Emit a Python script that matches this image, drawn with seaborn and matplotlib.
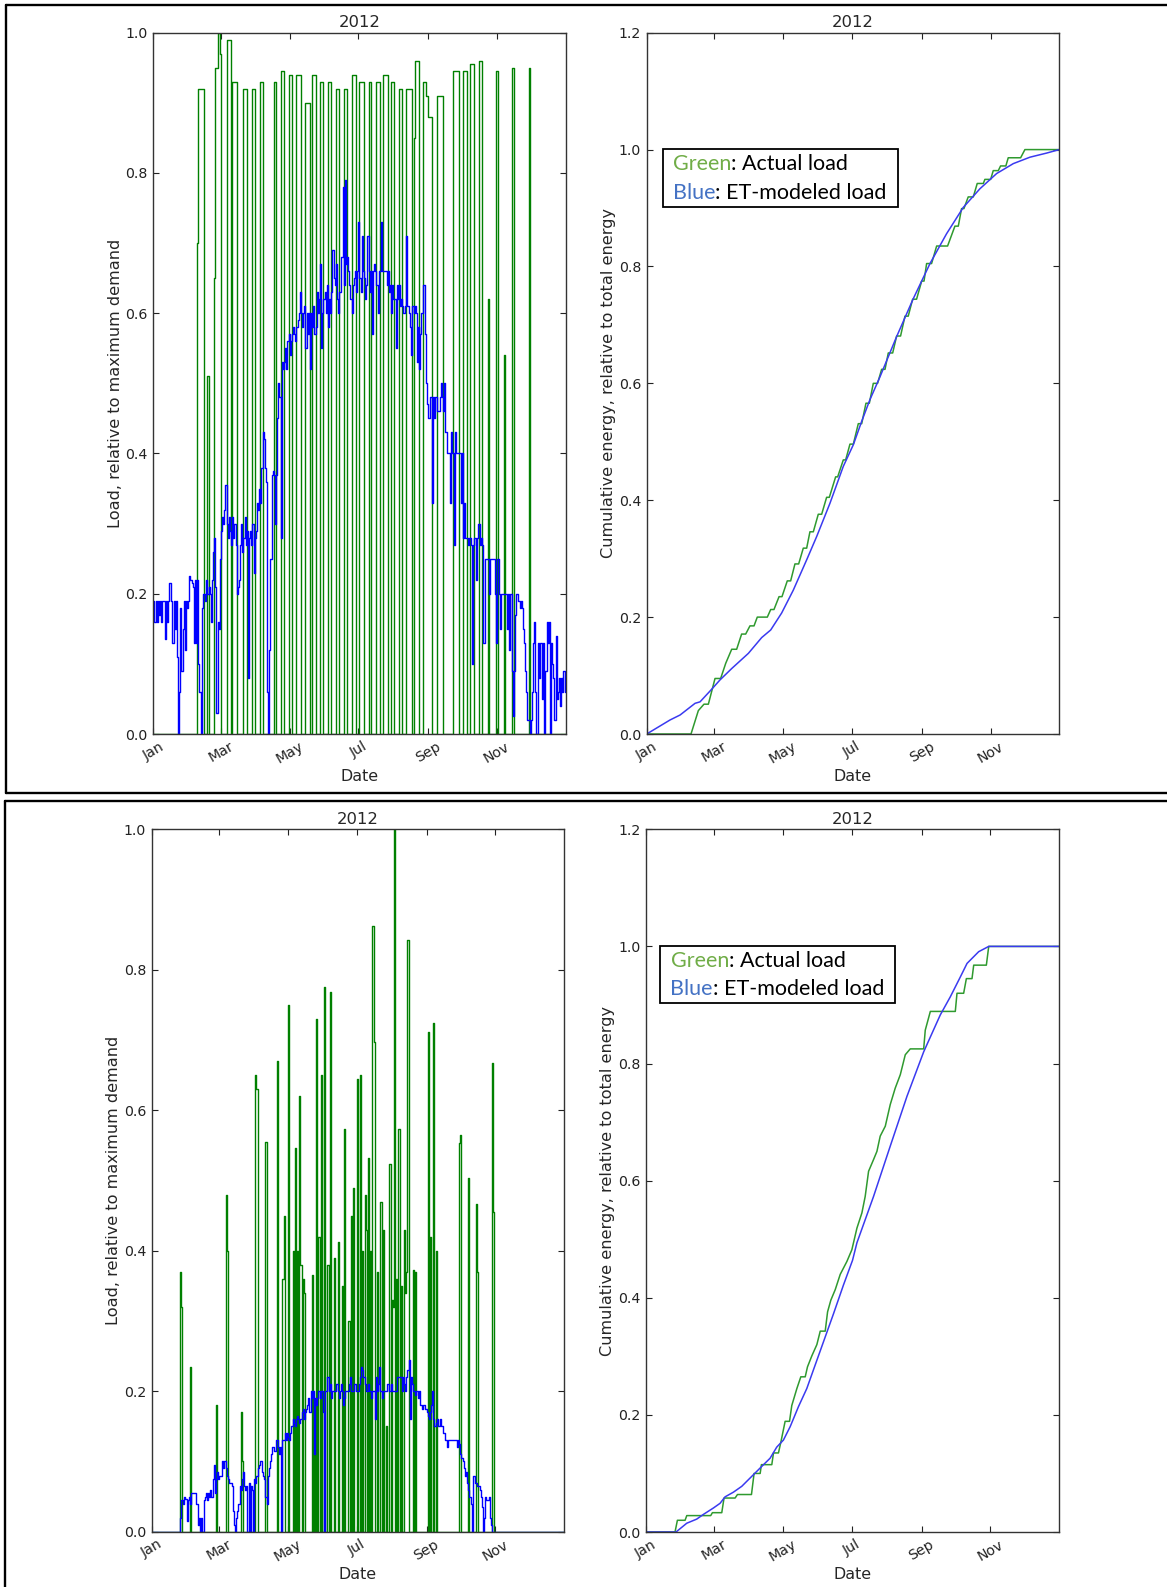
import numpy as np
import pandas as pd
import matplotlib
matplotlib.use("Agg")
import matplotlib.pyplot as plt
import matplotlib.dates as mdates
from matplotlib.ticker import FormatStrFormatter
from matplotlib.lines import Line2D
from matplotlib.patches import Rectangle
import seaborn as sns

# ---------------------------------------------------------------- data
YEAR_START = "2012-01-01"
YEAR_END = "2013-01-01"
N_DAYS = 366
TICK_DATES = ["2012-01-01", "2012-03-01", "2012-05-01", "2012-07-01", "2012-09-01", "2012-11-01"]

# Top case, actual load (relative to max demand): runs of days (start day index, n days, level)
top_actual_start = [39, 40, 48, 54, 55, 57, 59, 65, 70, 80,
                    88, 95, 107, 113, 120, 127, 135, 141, 148, 155,
                    162, 169, 176, 183, 191, 198, 204, 211, 218, 224,
                    231, 232, 239, 242, 244, 252, 266, 275, 281, 289,
                    297, 304, 311, 318, 333]
top_actual_ndays = [1, 5, 1, 1, 2, 2, 1, 4, 4, 3,
                    2, 2, 2, 3, 3, 4, 4, 3, 3, 3,
                    3, 3, 4, 4, 2, 3, 4, 3, 3, 6,
                    1, 4, 3, 2, 3, 5, 5, 3, 4, 3,
                    1, 2, 1, 2, 1]
top_actual_level = [0.70, 0.92, 0.51, 0.65, 0.95, 1.00, 0.97, 0.99, 0.93, 0.92,
                    0.92, 0.93, 0.93, 0.945, 0.94, 0.94, 0.90, 0.94, 0.93, 0.93,
                    0.92, 0.92, 0.94, 0.93, 0.93, 0.93, 0.94, 0.93, 0.92, 0.92,
                    0.85, 0.96, 0.93, 0.91, 0.88, 0.91, 0.945, 0.945, 0.955, 0.96,
                    0.62, 0.945, 0.54, 0.95, 0.95]

# Top case, ET-modeled load, one value per day of 2012
top_model = [
    0.19, 0.16, 0.19, 0.16, 0.19, 0.17, 0.19, 0.16, 0.19, 0.19,
    0.135, 0.19, 0.16, 0.19, 0.215, 0.215, 0.19, 0.13, 0.19, 0.15, 0.19, 0.11,
    0.0, 0.06, 0.18, 0.09, 0.15, 0.19, 0.12, 0.19, 0.18, 0.19,
    0.225, 0.22, 0.215, 0.21, 0.13, 0.22, 0.13, 0.22, 0.10, 0.06, 0.0,
    0.18, 0.20, 0.20, 0.19, 0.22, 0.20, 0.21, 0.20,
    0.16, 0.22, 0.26, 0.28, 0.21, 0.03, 0.16, 0.15,
    0.25, 0.29, 0.31, 0.30, 0.32, 0.355,
    0.30, 0.28, 0.31, 0.29, 0.27, 0.31, 0.28, 0.30, 0.27,
    0.20, 0.21, 0.22,
    0.27, 0.30, 0.26, 0.28, 0.31, 0.27, 0.29, 0.08,
    0.28, 0.29, 0.27, 0.30, 0.23, 0.28, 0.29,
    0.33, 0.32, 0.35, 0.33, 0.38, 0.43, 0.42,
    0.38, 0.36, 0.06, 0.0, 0.12,
    0.25, 0.37, 0.375, 0.37, 0.30, 0.37,
    0.45, 0.50, 0.48, 0.28, 0.53, 0.52,
    0.53, 0.55, 0.52, 0.56, 0.57, 0.54, 0.56,
    0.57, 0.58, 0.57, 0.56, 0.58, 0.59,
    0.60, 0.63, 0.60, 0.58, 0.60, 0.61,
    0.55, 0.60, 0.57, 0.60, 0.52, 0.60, 0.58,
    0.61, 0.57, 0.58, 0.63, 0.60, 0.62,
    0.67, 0.55, 0.60, 0.62, 0.63, 0.60,
    0.64, 0.58, 0.62, 0.60, 0.63, 0.69,
    0.65, 0.64, 0.67, 0.62, 0.60, 0.63,
    0.63, 0.68, 0.78, 0.64, 0.79, 0.67,
    0.68, 0.66, 0.64, 0.62, 0.60, 0.64,
    0.65, 0.66, 0.63, 0.66, 0.73, 0.65,
    0.63, 0.71, 0.66, 0.65, 0.62, 0.64,
    0.71, 0.66, 0.63, 0.66, 0.57, 0.66,
    0.67, 0.66, 0.64, 0.60, 0.66, 0.66,
    0.73, 0.66, 0.66, 0.66, 0.66, 0.64,
    0.66, 0.63, 0.64, 0.60, 0.64, 0.62,
    0.62, 0.55, 0.64, 0.62, 0.64, 0.61,
    0.62, 0.61, 0.60, 0.61, 0.71, 0.61,
    0.61, 0.60, 0.58, 0.54, 0.61, 0.60,
    0.61, 0.60, 0.53, 0.58, 0.52, 0.57,
    0.60, 0.64, 0.64, 0.57, 0.50, 0.47,
    0.45, 0.45, 0.48, 0.33, 0.48, 0.45,
    0.48, 0.48, 0.46, 0.46, 0.48, 0.50,
    0.48, 0.46, 0.50, 0.43, 0.43, 0.40,
    0.40, 0.33, 0.43, 0.40, 0.40, 0.27,
    0.43, 0.40, 0.40, 0.40, 0.40, 0.33,
    0.40, 0.28, 0.33, 0.28, 0.28, 0.27,
    0.28, 0.28, 0.27, 0.10, 0.27, 0.28,
    0.22, 0.28, 0.30, 0.30, 0.27, 0.28,
    0.27, 0.13, 0.25, 0.25, 0.25, 0.25,
    0.20, 0.25, 0.25, 0.25, 0.25, 0.20,
    0.13, 0.25, 0.25, 0.20, 0.15, 0.20,
    0.20, 0.20, 0.20, 0.20, 0.15, 0.20,
    0.12, 0.20, 0.09, 0.025, 0.09, 0.17,
    0.20, 0.20, 0.19, 0.18, 0.19, 0.18,
    0.15, 0.13, 0.09, 0.06, 0.02, 0.02,
    0.0, 0.02, 0.06, 0.13, 0.16, 0.06,
    0.0, 0.13, 0.08, 0.13, 0.13, 0.05,
    0.13, 0.0, 0.09, 0.16, 0.13, 0.16,
    0.0, 0.13, 0.10, 0.08, 0.02, 0.14,
    0.05, 0.06, 0.08, 0.04, 0.08, 0.06, 0.09, 0.06,
]

# Top case, cumulative energy (day of year, fraction of total)
top_cum_actual_day = [0, 39.3, 45.8, 50.8, 54.7, 60.6, 65.6, 70.1, 75.4, 79.8,
                      84.2, 87.8, 91.6, 95.2, 98.1, 107.0, 110.0, 112.9, 117.4, 120.0,
                      124.7, 127.7, 131.5, 134.8, 138.9, 141.9, 144.8, 147.8, 152.2, 155.2,
                      159.6, 162.0, 167.6, 169.4, 174.4, 176.5, 180.3, 183.3, 187.7, 190.7,
                      194.5, 197.5, 201.0, 204.8, 208.4, 211.4, 214.3, 218.2, 221.7, 225.2,
                      229.1, 232.0, 235.9, 239.4, 243.9, 246.0, 248.3, 252.7, 257.2, 266.9,
                      273.4, 276.4, 279.3, 281.4, 285.2, 289.7, 293.2, 298.6, 300.0, 305.1,
                      307.4, 311.9, 313.9, 318.6, 320.7, 331.7, 335.5, 366.0]
top_cum_actual_val = [0, 0, 0.04, 0.051, 0.051, 0.095, 0.095, 0.121, 0.145, 0.145,
                      0.171, 0.171, 0.185, 0.185, 0.2, 0.2, 0.213, 0.213, 0.235, 0.235,
                      0.262, 0.262, 0.291, 0.291, 0.318, 0.318, 0.346, 0.346, 0.376, 0.376,
                      0.405, 0.405, 0.44, 0.44, 0.469, 0.469, 0.496, 0.496, 0.531, 0.531,
                      0.566, 0.566, 0.6, 0.6, 0.624, 0.624, 0.652, 0.652, 0.681, 0.681,
                      0.715, 0.715, 0.744, 0.744, 0.775, 0.775, 0.805, 0.805, 0.835, 0.835,
                      0.869, 0.869, 0.899, 0.899, 0.919, 0.919, 0.942, 0.942, 0.949, 0.949,
                      0.964, 0.964, 0.972, 0.972, 0.986, 0.986, 1.0, 1.0]
top_cum_model_day = [0, 20.7, 29.6, 42.9, 47.3, 57.6, 65.0, 75.4, 90.2, 102.0,
                     110.0, 119.7, 130.0, 141.9, 150.8, 162.6, 174.4, 183.3, 190.7, 198.0,
                     206.9, 221.7, 236.5, 251.3, 266.0, 280.8, 295.6, 310.4, 325.2, 340.0,
                     354.7, 366.0]
top_cum_model_val = [0, 0.024, 0.0325, 0.0525, 0.055, 0.0765, 0.0925, 0.112, 0.138, 0.165,
                     0.178, 0.207, 0.246, 0.298, 0.338, 0.395, 0.458, 0.495, 0.535, 0.572,
                     0.611, 0.68, 0.745, 0.805, 0.856, 0.901, 0.933, 0.959, 0.976, 0.987,
                     0.994, 1.0]

# Bottom case, actual load: single-day spikes (day index, level)
bottom_actual_day = [25, 26, 34, 57, 66, 67, 79, 80, 92, 93,
                     101, 111, 116, 117, 121, 125, 127, 129, 131, 132,
                     134, 135, 142, 144, 146, 148, 150, 153, 156, 158,
                     162, 165, 169, 171, 174, 175, 177, 179, 182, 185,
                     187, 189, 190, 192, 194, 196, 197, 200, 203, 205,
                     208, 211, 213, 214, 215, 217, 219, 221, 224, 225,
                     226, 227, 232, 234, 245, 247, 250, 252, 273, 274,
                     281, 288, 289, 302, 303]
bottom_actual_level = [0.37, 0.32, 0.235, 0.18, 0.48, 0.40, 0.17, 0.10, 0.65, 0.63,
                       0.555, 0.67, 0.36, 0.45, 0.75, 0.40, 0.546, 0.40, 0.62, 0.38,
                       0.36, 0.34, 0.365, 0.15, 0.73, 0.42, 0.65, 0.775, 0.38, 0.768,
                       0.39, 0.413, 0.35, 0.573, 0.30, 0.30, 0.45, 0.49, 0.644, 0.65,
                       0.40, 0.48, 0.43, 0.532, 0.40, 0.863, 0.697, 0.37, 0.47, 0.43,
                       0.15, 0.523, 0.33, 0.32, 1.0, 0.36, 0.573, 0.35, 0.43, 0.34,
                       0.37, 0.843, 0.373, 0.37, 0.712, 0.42, 0.724, 0.40, 0.554, 0.565,
                       0.504, 0.466, 0.37, 0.667, 0.455]

# Bottom case, ET-modeled load, daily values starting at day 25 (zero elsewhere)
bottom_model_first_day = 25
bottom_model = [
    0.02, 0.045, 0.045, 0.04, 0.05, 0.047, 0.015, 0.045, 0.05, 0.04,
    0.055, 0.055, 0.055, 0.055, 0.04, 0.04, 0.01, 0.02, 0.0, 0.02,
    0.0, 0.045, 0.05, 0.055, 0.045, 0.055, 0.05, 0.06, 0.05, 0.075,
    0.095, 0.055, 0.075, 0.085, 0.075, 0.08, 0.08, 0.1, 0.09, 0.1,
    0.1, 0.09, 0.08, 0.075, 0.07, 0.07, 0.065, 0.03, 0.01, 0.0,
    0.02, 0.03, 0.04, 0.065, 0.06, 0.075, 0.085, 0.065, 0.06, 0.065,
    0.0, 0.07, 0.0, 0.065, 0.06, 0.0, 0.075, 0.07, 0.08, 0.09,
    0.095, 0.1, 0.1, 0.085, 0.08, 0.075, 0.05, 0.04, 0.08, 0.09,
    0.1, 0.11, 0.12, 0.12, 0.115, 0.13, 0.13, 0.12, 0.11, 0.12,
    0.0, 0.13, 0.13, 0.14, 0.13, 0.14, 0.135, 0.13, 0.14, 0.15,
    0.16, 0.155, 0.15, 0.16, 0.165, 0.16, 0.155, 0.16, 0.17, 0.175,
    0.16, 0.17, 0.175, 0.18, 0.19, 0.17, 0.2, 0.19, 0.2, 0.11,
    0.19, 0.18, 0.19, 0.2, 0.19, 0.2, 0.2, 0.17, 0.0, 0.2,
    0.2, 0.22, 0.2, 0.21, 0.19, 0.2, 0.2, 0.2, 0.2, 0.21,
    0.2, 0.19, 0.2, 0.21, 0.2, 0.18, 0.19, 0.2, 0.2, 0.2,
    0.21, 0.22, 0.2, 0.2, 0.2, 0.21, 0.2, 0.2, 0.2, 0.21,
    0.22, 0.235, 0.23, 0.22, 0.21, 0.2, 0.2, 0.21, 0.2, 0.2,
    0.19, 0.2, 0.2, 0.16, 0.22, 0.2, 0.21, 0.235, 0.2, 0.19,
    0.2, 0.2, 0.2, 0.2, 0.21, 0.21, 0.2, 0.21, 0.2, 0.2,
    0.2, 0.2, 0.2, 0.22, 0.22, 0.22, 0.22, 0.2, 0.22, 0.21,
    0.2, 0.22, 0.23, 0.245, 0.16, 0.22, 0.21, 0.2, 0.2, 0.195,
    0.2, 0.19, 0.2, 0.18, 0.18, 0.175, 0.18, 0.18, 0.175, 0.17,
    0.165, 0.16, 0.17, 0.18, 0.2, 0.16, 0.15, 0.155, 0.16, 0.15,
    0.15, 0.16, 0.15, 0.15, 0.14, 0.13, 0.13, 0.12, 0.13, 0.13,
    0.13, 0.13, 0.13, 0.13, 0.13, 0.13, 0.12, 0.13, 0.125, 0.11,
    0.105, 0.1, 0.09, 0.08, 0.085, 0.07, 0.06, 0.05, 0.04, 0.0,
    0.08, 0.08, 0.07, 0.07, 0.065, 0.065, 0.06, 0.05, 0.035, 0.0,
    0.02, 0.05, 0.045, 0.045, 0.05, 0.02, 0.01, 0.0,
]

bottom_cum_actual_day = [0, 25.7, 27.8, 34.6, 36.1, 57.3, 58.8, 67.1, 69.1, 78.9,
                         81.0, 93.4, 95.7, 101.1, 102.2, 111.4, 112.9, 117.3, 119.7, 123.2,
                         127.1, 129.1, 133.6, 137.1, 141.0, 143.0, 146.9, 151.3, 154.3, 158.7,
                         160.8, 163.7, 167.6, 172.0, 177.9, 182.3, 186.8, 191.2, 194.1, 197.1,
                         201.5, 204.5, 207.4, 211.9, 216.3, 220.7, 225.2, 229.6, 234.0, 245.9,
                         247.3, 251.8, 273.9, 275.4, 281.3, 283.7, 288.7, 290.2, 301.4, 303.5,
                         366.0]
bottom_cum_actual_val = [0, 0, 0.02, 0.02, 0.028, 0.028, 0.033, 0.033, 0.058, 0.058,
                         0.064, 0.064, 0.1, 0.1, 0.115, 0.115, 0.135, 0.135, 0.156, 0.189,
                         0.189, 0.216, 0.245, 0.265, 0.265, 0.282, 0.301, 0.32, 0.343, 0.343,
                         0.376, 0.396, 0.414, 0.44, 0.462, 0.482, 0.519, 0.545, 0.573, 0.616,
                         0.636, 0.65, 0.676, 0.693, 0.73, 0.758, 0.781, 0.815, 0.825, 0.825,
                         0.857, 0.889, 0.889, 0.92, 0.92, 0.945, 0.945, 0.968, 0.968, 1.0,
                         1.0]
bottom_cum_model_day = [0, 26.6, 36.1, 44.9, 50.8, 59.7, 65.6, 70.0, 77.4, 84.8,
                        95.2, 102.5, 109.9, 115.8, 121.7, 127.7, 135.0, 142.4, 148.3, 157.2,
                        166.1, 174.9, 182.9, 186.8, 201.5, 216.3, 231.1, 245.9, 260.6, 269.5,
                        278.4, 284.3, 294.6, 303.5, 366.0]
bottom_cum_model_val = [0, 0, 0.015, 0.022, 0.03, 0.041, 0.049, 0.06, 0.068, 0.078,
                        0.098, 0.112, 0.126, 0.145, 0.157, 0.18, 0.214, 0.245, 0.277, 0.325,
                        0.373, 0.422, 0.464, 0.494, 0.573, 0.659, 0.744, 0.82, 0.883, 0.914,
                        0.948, 0.971, 0.991, 1.0, 1.0]

assert len(top_model) == N_DAYS, len(top_model)

# ---------------------------------------------------------------- style
sns.set_theme(style="white")
plt.rcParams["font.family"] = ["DejaVu Sans"]
plt.rcParams["axes.edgecolor"] = "#333333"
plt.rcParams["axes.linewidth"] = 1.0

GREEN = "#008000"
BLUE = "#0000ff"
W, H = 1167, 1587

fig = plt.figure(figsize=(W / 100, H / 100), dpi=100)


def px_axes(x0, y0, x1, y1):
    return fig.add_axes([x0 / W, 1 - y1 / H, (x1 - x0) / W, (y1 - y0) / H])


ax_tl = px_axes(153.3, 32.7, 565.7, 734.0)
ax_tr = px_axes(646.7, 32.7, 1059.3, 734.0)
ax_bl = px_axes(151.7, 829.3, 564.0, 1531.7)
ax_br = px_axes(646.0, 829.3, 1059.3, 1532.0)

start = pd.Timestamp(YEAR_START)


def daily_from_runs(days, ndays, levels):
    vals = np.zeros(N_DAYS)
    for d, n, lv in zip(days, ndays, levels):
        vals[d:d + n] = lv
    return vals


def step_plot(ax, vals, color, lw=1.0):
    vals = np.asarray(vals, dtype=float)
    dates = pd.date_range(YEAR_START, periods=len(vals) + 1, freq="D")
    df = pd.DataFrame({"date": dates, "load": np.append(vals, vals[-1])})
    sns.lineplot(data=df, x="date", y="load", ax=ax, color=color, lw=lw,
                 drawstyle="steps-post", estimator=None, sort=False)


def cum_plot(ax, days, vals, color):
    dates = start + pd.to_timedelta(np.asarray(days, dtype=float), unit="D")
    df = pd.DataFrame({"date": dates, "cum": vals})
    sns.lineplot(data=df, x="date", y="cum", ax=ax, color=color, lw=1.1,
                 estimator=None, sort=False)


def style_ax(ax, ymax, ylabel):
    ax.set_xlim(pd.Timestamp(YEAR_START), pd.Timestamp(YEAR_END))
    ax.set_ylim(0, ymax)
    ax.set_yticks(np.arange(0, ymax + 0.01, 0.2))
    ax.yaxis.set_major_formatter(FormatStrFormatter("%.1f"))
    ax.set_xticks([pd.Timestamp(d) for d in TICK_DATES])
    ax.xaxis.set_major_formatter(mdates.DateFormatter("%b"))
    ax.tick_params(direction="in", top=True, right=True, bottom=True, left=True,
                   length=4, width=0.8, labelsize=10.2, pad=4, colors="#222222")
    plt.setp(ax.get_xticklabels(), rotation=30, ha="center")
    ax.set_xlabel("Date", fontsize=11.4, labelpad=2)
    ax.set_ylabel(ylabel, fontsize=11.6, labelpad=2)
    ax.set_title("2012", fontsize=11.8, pad=4)
    for s in ax.spines.values():
        s.set_visible(True)
        s.set_color("#333333")


# top-left
step_plot(ax_tl, daily_from_runs(top_actual_start, top_actual_ndays, top_actual_level), GREEN)
step_plot(ax_tl, top_model, BLUE)
style_ax(ax_tl, 1.0, "Load, relative to maximum demand")

# bottom-left
bottom_model_daily = np.zeros(N_DAYS)
bottom_model_daily[bottom_model_first_day:bottom_model_first_day + len(bottom_model)] = bottom_model
step_plot(ax_bl, daily_from_runs(bottom_actual_day, [1] * len(bottom_actual_day), bottom_actual_level), GREEN)
step_plot(ax_bl, bottom_model_daily, BLUE)
style_ax(ax_bl, 1.0, "Load, relative to maximum demand")

# right: cumulative
cum_plot(ax_tr, top_cum_actual_day, top_cum_actual_val, "#2f9a2f")
cum_plot(ax_tr, top_cum_model_day, top_cum_model_val, "#3a3af0")
style_ax(ax_tr, 1.2, "Cumulative energy, relative to total energy")

cum_plot(ax_br, bottom_cum_actual_day, bottom_cum_actual_val, "#2f9a2f")
cum_plot(ax_br, bottom_cum_model_day, bottom_cum_model_val, "#3a3af0")
style_ax(ax_br, 1.2, "Cumulative energy, relative to total energy")

# ---------------------------------------------------------------- annotation boxes
LEG_FONT = dict(family=["Lato", "DejaVu Sans"], fontsize=15.5)


def note_box(x0, y0, x1, y1, tx, ty1, ty2):
    fig.add_artist(Rectangle((x0 / W, 1 - y1 / H), (x1 - x0) / W, (y1 - y0) / H,
                             transform=fig.transFigure, fill=False,
                             edgecolor="black", lw=1.3))
    for ty, word, col, rest in [(ty1, "Green", "#70AD47", ": Actual load"),
                                (ty2, "Blue", "#4472C4", ": ET-modeled load")]:
        t = fig.text(tx / W, 1 - ty / H, word, color=col, va="center", ha="left", **LEG_FONT)
        fig.add_artist(matplotlib.text.Annotation(rest, xy=(1, 0), xycoords=t,
                                                  va="bottom", ha="left",
                                                  color="black", **LEG_FONT))


note_box(662.7, 149.3, 898.3, 206.7, 672.5, 164.3, 192.7)
note_box(660.0, 946.0, 895.0, 1003.0, 670.5, 961.0, 989.3)

# ---------------------------------------------------------------- outer frames
def frame_line(x0, y0, x1, y1):
    fig.add_artist(Line2D([x0 / W, x1 / W], [1 - y0 / H, 1 - y1 / H],
                          transform=fig.transFigure, color="black", lw=1.7))


frame_line(6, 5, W, 5)
frame_line(6, 5, 6, 793)
frame_line(6, 793, W, 793)
frame_line(4.5, 801, W, 801)
frame_line(4.5, 801, 4.5, H)

fig.savefig("out.png", dpi=100)
